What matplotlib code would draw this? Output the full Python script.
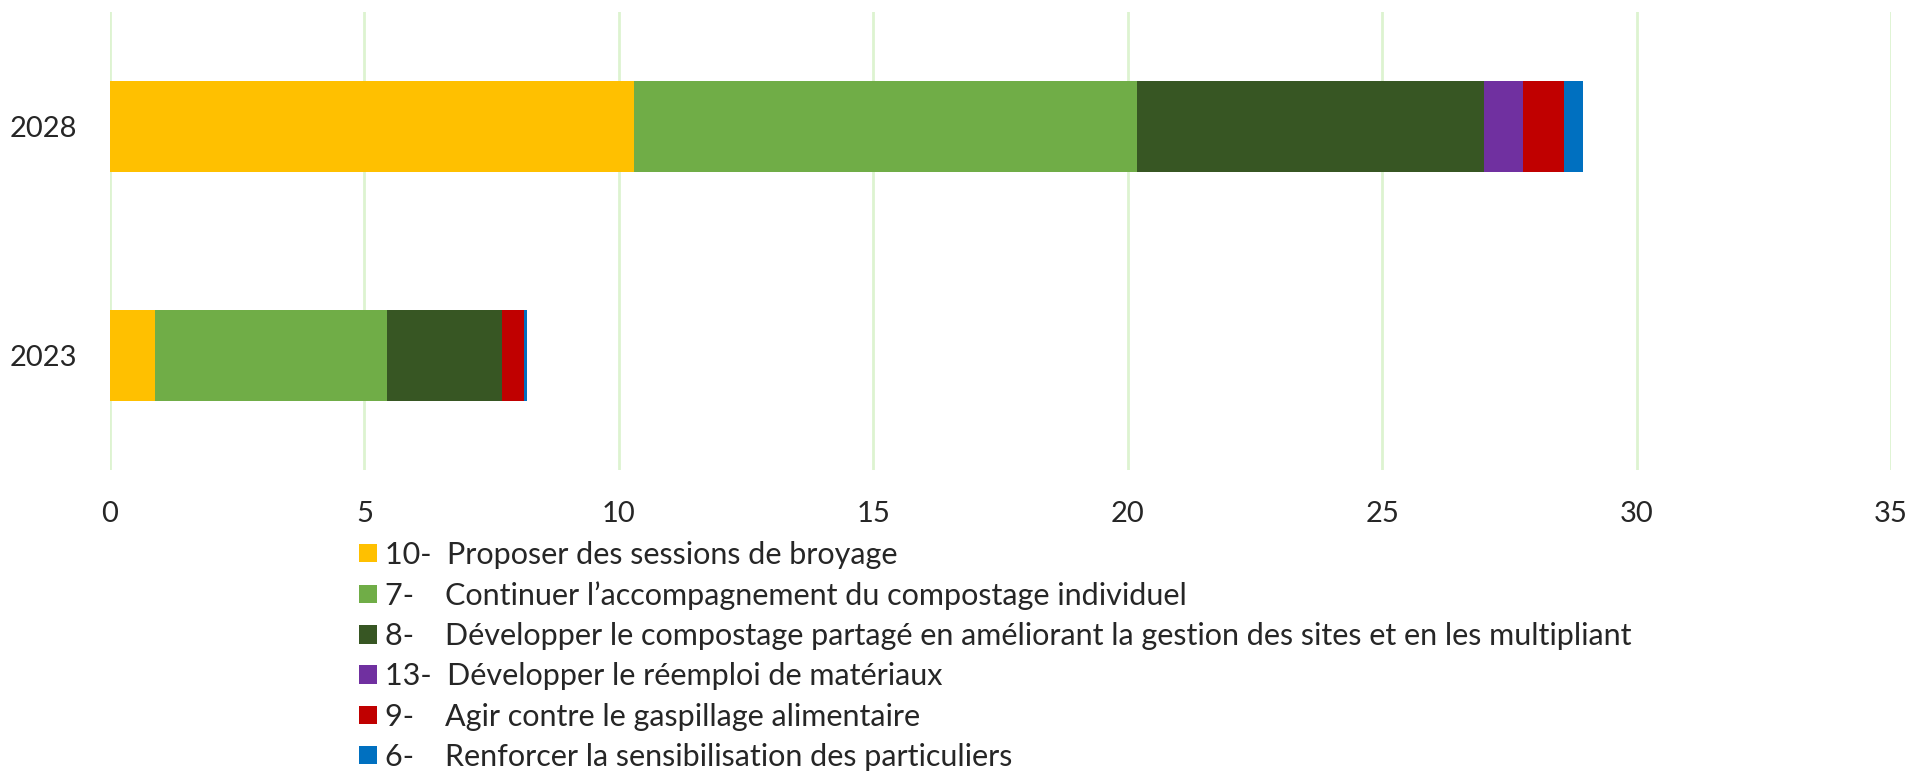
import matplotlib
matplotlib.use("Agg")
import matplotlib.pyplot as plt
from matplotlib.patches import Patch

plt.rcParams['font.family'] = ['Lato', 'DejaVu Sans']

years = ["2023", "2028"]
series_labels = [
    "10-  Proposer des sessions de broyage",
    "7-    Continuer l\u2019accompagnement du compostage individuel",
    "8-    D\u00e9velopper le compostage partag\u00e9 en am\u00e9liorant la gestion des sites et en les multipliant",
    "13-  D\u00e9velopper le r\u00e9emploi de mat\u00e9riaux",
    "9-    Agir contre le gaspillage alimentaire",
    "6-    Renforcer la sensibilisation des particuliers",
]
colors = ["#FFC000", "#70AD47", "#375623", "#7030A0", "#C00000", "#0070C0"]
# values per series: [2023, 2028]
v_broyage = [0.89, 10.30]
v_compost_indiv = [4.56, 9.89]
v_compost_partage = [2.26, 6.81]
v_reemploi = [0.00, 0.77]
v_gaspillage = [0.43, 0.81]
v_sensibilisation = [0.05, 0.36]
series_values = [v_broyage, v_compost_indiv, v_compost_partage,
                 v_reemploi, v_gaspillage, v_sensibilisation]
xticks = [0, 5, 10, 15, 20, 25, 30, 35]

fig = plt.figure(figsize=(19.12, 7.71), dpi=100)
ax = fig.add_axes([110/1912, 1-470/771, (1891-110)/1912, (470-12)/771])

ypos = list(range(len(years)))
left = [0.0] * len(years)
for vals, col in zip(series_values, colors):
    ax.barh(ypos, vals, left=left, height=0.4, color=col, zorder=3)
    left = [l + v for l, v in zip(left, vals)]

ax.set_xlim(0, 35)
ax.set_ylim(-0.5, 1.5)
ax.set_xticks(xticks)
ax.set_xticklabels([str(t) for t in xticks])
ax.set_yticks(ypos)
ax.set_yticklabels(years)
ax.tick_params(axis='both', length=0, labelsize=21, colors="#262626")
ax.tick_params(axis='x', pad=22)
ax.tick_params(axis='y', pad=24)
ax.grid(axis='x', color="#DDF3D0", linewidth=2, zorder=0)
for s in ax.spines.values():
    s.set_visible(False)

handles = [Patch(facecolor=c, edgecolor='none') for c in colors]
leg = fig.legend(handles, series_labels, loc='upper left',
                 bbox_to_anchor=(359/1912, 1-541/771), frameon=False,
                 fontsize=22, handlelength=0.59, handleheight=0.55,
                 handletextpad=0.26, labelspacing=0.40, borderpad=0,
                 borderaxespad=0)
for t in leg.get_texts():
    t.set_color("#262626")

fig.savefig("out.png", dpi=100)
